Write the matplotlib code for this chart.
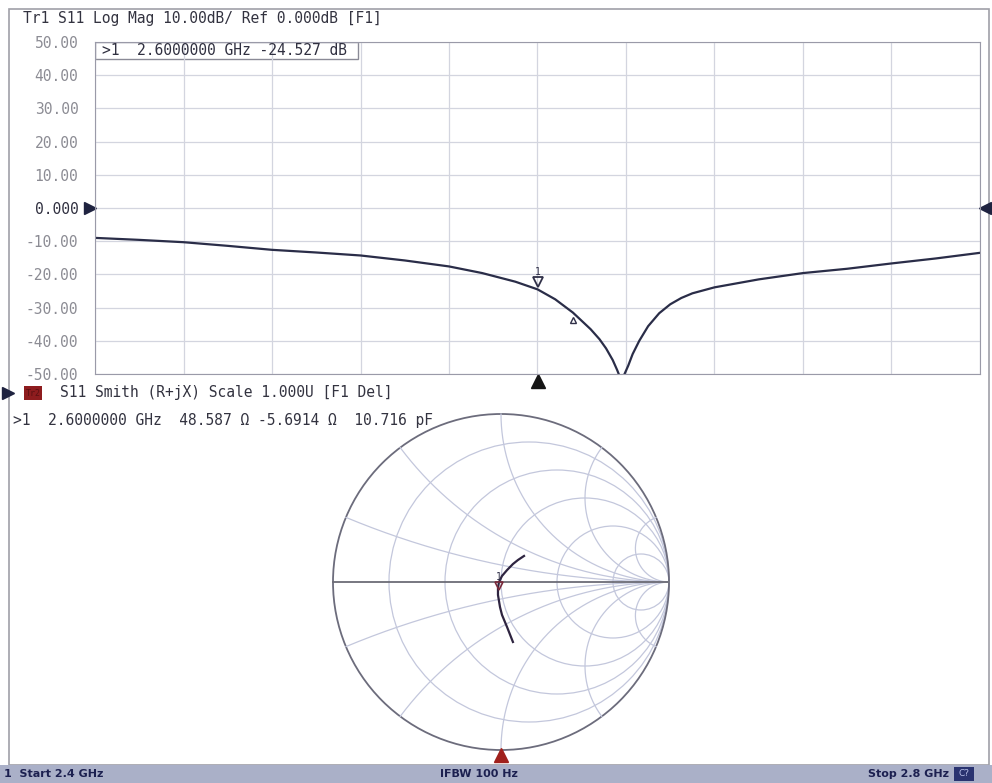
import numpy as np
import matplotlib.pyplot as plt
from matplotlib import transforms
from matplotlib.patches import Rectangle, Circle

# S11 log magnitude
freq_ghz = [2.400, 2.420, 2.440, 2.460, 2.480, 2.500, 2.520, 2.540, 2.560, 2.575,
            2.590, 2.600, 2.608, 2.616, 2.624, 2.628, 2.631, 2.634, 2.636, 2.637,
            2.639, 2.641, 2.643, 2.646, 2.650, 2.655, 2.660, 2.665, 2.670, 2.680,
            2.700, 2.720, 2.740, 2.760, 2.780, 2.800]
s11_db = [-9.0, -9.6, -10.3, -11.4, -12.6, -13.4, -14.3, -15.8, -17.6, -19.6,
          -22.2, -24.5, -27.5, -31.5, -36.5, -39.5, -42.3, -45.8, -48.8, -50.5,
          -50.5, -47.5, -44.0, -40.0, -35.6, -31.7, -29.0, -27.1, -25.7, -23.9,
          -21.5, -19.6, -18.3, -16.7, -15.2, -13.5]

# S11 on the Smith chart (reflection coefficient), 2.4 -> 2.8 GHz
gamma_re = [0.071, 0.036, 0.006, -0.006, -0.018, -0.018, -0.012, 0.006, 0.036, 0.071, 0.101, 0.137]
gamma_im = [-0.357, -0.268, -0.196, -0.149, -0.077, -0.036, 0.000, 0.036, 0.071, 0.107, 0.131, 0.155]

y_ticks = [50, 40, 30, 20, 10, 0, -10, -20, -30, -40, -50]
y_labels = ['50.00', '40.00', '30.00', '20.00', '10.00', '0.000',
            '-10.00', '-20.00', '-30.00', '-40.00', '-50.00']

f_start, f_stop = 2.4, 2.8
mk1_freq, mk1_db = 2.6, -24.527
mk2_freq, mk2_db = 2.616, -31.5
mk1_z = complex(48.587, -5.6914)

smith_r = [0.2, 0.5, 1, 2, 5]
smith_x = [0.2, 0.5, 1, 2, 5]

W, H = 992, 783
mono = 'DejaVu Sans Mono'
ink = '#2a2d48'


def px_rect(x0, y0, x1, y1):
    return [x0 / W, 1 - y1 / H, (x1 - x0) / W, (y1 - y0) / H]


fig = plt.figure(figsize=(W / 100, H / 100), dpi=100)
bg = fig.add_axes([0, 0, 1, 1])
bg.set_xlim(0, W)
bg.set_ylim(H, 0)
bg.axis('off')

# outer frame + status bar
bg.add_patch(Rectangle((9, 9), 980, 756, fill=False, ec='#a0a0a8', lw=1.2))
bg.add_patch(Rectangle((0, 765), W, 18, fc='#aab0c8', ec='none'))
bar_txt = dict(fontsize=8, color='#1c2050', va='center', weight='semibold')
bg.text(4, 774, '1  Start 2.4 GHz', **bar_txt)
bg.text(479, 774, 'IFBW 100 Hz', ha='center', **bar_txt)
bg.text(949, 774, 'Stop 2.8 GHz', ha='right', **bar_txt)
bg.add_patch(Rectangle((954, 767), 20, 14, fc='#2a3370', ec='none'))
bg.text(964, 774, 'C?', fontsize=6.5, color='#b8c0e8', va='center', ha='center')

# ---- top: log mag ----
bg.text(23, 18, 'Tr1 S11 Log Mag 10.00dB/ Ref 0.000dB [F1]', family=mono,
        fontsize=10.5, color='#333340', va='center')

ax1 = fig.add_axes(px_rect(95, 42, 980, 374))
ax1.plot(freq_ghz, s11_db, color=ink, lw=1.6)
ax1.set_xlim(f_start, f_stop)
ax1.set_ylim(-50, 50)
ax1.set_xticks(np.linspace(f_start, f_stop, 11))
ax1.set_xticklabels([])
ax1.set_yticks(y_ticks)
ax1.set_yticklabels(y_labels, family=mono, fontsize=10.5, color='#8c8c94')
ax1.get_yticklabels()[5].set_color('#303040')
ax1.tick_params(length=0, pad=12)
ax1.grid(color='#d3d5df', lw=0.9)
for s in ax1.spines.values():
    s.set_color('#9a9aa8')

# reference arrows at 0 dB
tl = transforms.offset_copy(ax1.get_yaxis_transform(), fig=fig, x=-5, y=0, units='dots')
tr = transforms.offset_copy(ax1.get_yaxis_transform(), fig=fig, x=5, y=0, units='dots')
ax1.plot([0], [0], marker='>', ms=9, color='#1f2340', transform=tl, clip_on=False)
ax1.plot([1], [0], marker='<', ms=9, color='#1f2340', transform=tr, clip_on=False)

# active marker arrow below the plot
tb = transforms.offset_copy(ax1.get_xaxis_transform(), fig=fig, x=0, y=-7, units='dots')
ax1.plot([mk1_freq], [0], marker='^', ms=10, color='#151515', transform=tb, clip_on=False)

# marker symbols on the trace
tm1 = transforms.offset_copy(ax1.transData, fig=fig, x=0, y=7, units='dots')
ax1.plot([mk1_freq], [mk1_db], marker='v', ms=7, mfc='none', mec='#303048', mew=1.3, transform=tm1)
ax1.text(mk1_freq, mk1_db, '1', transform=transforms.offset_copy(ax1.transData, fig=fig, x=0, y=17, units='dots'),
         ha='center', va='center', fontsize=7, color='#303048', family=mono)
tm2 = transforms.offset_copy(ax1.transData, fig=fig, x=0, y=-7, units='dots')
ax1.plot([mk2_freq], [mk2_db], marker='^', ms=5, mfc='none', mec='#303048', mew=1, transform=tm2)

# marker readout box
ax1.add_patch(Rectangle((0, 0.95), 0.297, 0.05, transform=ax1.transAxes,
                        fc='white', ec='#8a8a96', lw=1))
ax1.text(0.008, 0.975, '>1  2.6000000 GHz -24.527 dB', transform=ax1.transAxes,
         family=mono, fontsize=10.5, color='#303040', va='center')

# ---- bottom: Smith chart ----
bg.plot([8], [393], marker='>', ms=8, color='#1f2340', clip_on=False)
bg.add_patch(Rectangle((24, 386), 18, 14, fc='#8e1c1e', ec='none'))
bg.text(33, 393, 'Tr2', fontsize=6, color='#5a1012', ha='center', va='center', family=mono)
bg.text(60, 393, 'S11 Smith (R+jX) Scale 1.000U [F1 Del]', family=mono,
        fontsize=10.5, color='#333340', va='center')
bg.text(13, 421, '>1  2.6000000 GHz  48.587 \u03a9 -5.6914 \u03a9  10.716 pF', family=mono,
        fontsize=10.5, color='#333340', va='center')

R = 168
lim = 176 / R
ax2 = fig.add_axes(px_rect(501 - 176, 582 - 176, 501 + 176, 582 + 176))
ax2.set_xlim(-lim, lim)
ax2.set_ylim(-lim, lim)
ax2.set_aspect('equal')
ax2.axis('off')

grid_c = '#c3c7dc'
for r in smith_r:
    ax2.add_patch(Circle((r / (1 + r), 0), 1 / (1 + r), fill=False, ec=grid_c, lw=0.9))
rr = np.concatenate([np.linspace(0, 1, 200), np.logspace(0, 3, 300)])
for x in smith_x:
    for sgn in (1, -1):
        z = rr + 1j * sgn * x
        g = (z - 1) / (z + 1)
        ax2.plot(g.real, g.imag, color=grid_c, lw=0.9)
ax2.add_patch(Circle((0, 0), 1, fill=False, ec='#6c6c7c', lw=1.3))
ax2.plot([-1, 1], [0, 0], color='#6c6c76', lw=1.3)

ax2.plot(gamma_re, gamma_im, color='#2e2440', lw=1.6)

z1 = mk1_z / 50
g1 = (z1 - 1) / (z1 + 1)
ax2.plot([g1.real], [g1.imag], marker='v', ms=6, mfc='none', mec='#7a2a3a', mew=1.2,
         transform=transforms.offset_copy(ax2.transData, fig=fig, x=0, y=6, units='dots'))
ax2.text(g1.real, g1.imag, '1', transform=transforms.offset_copy(ax2.transData, fig=fig, x=0, y=15, units='dots'),
         ha='center', va='center', fontsize=7, color='#303048', family=mono)

ax2.plot([0], [-1], marker='^', ms=10, color='#a0201c', clip_on=False,
         transform=transforms.offset_copy(ax2.transData, fig=fig, x=0, y=-5, units='dots'))

fig.savefig('out.png', dpi=100)
